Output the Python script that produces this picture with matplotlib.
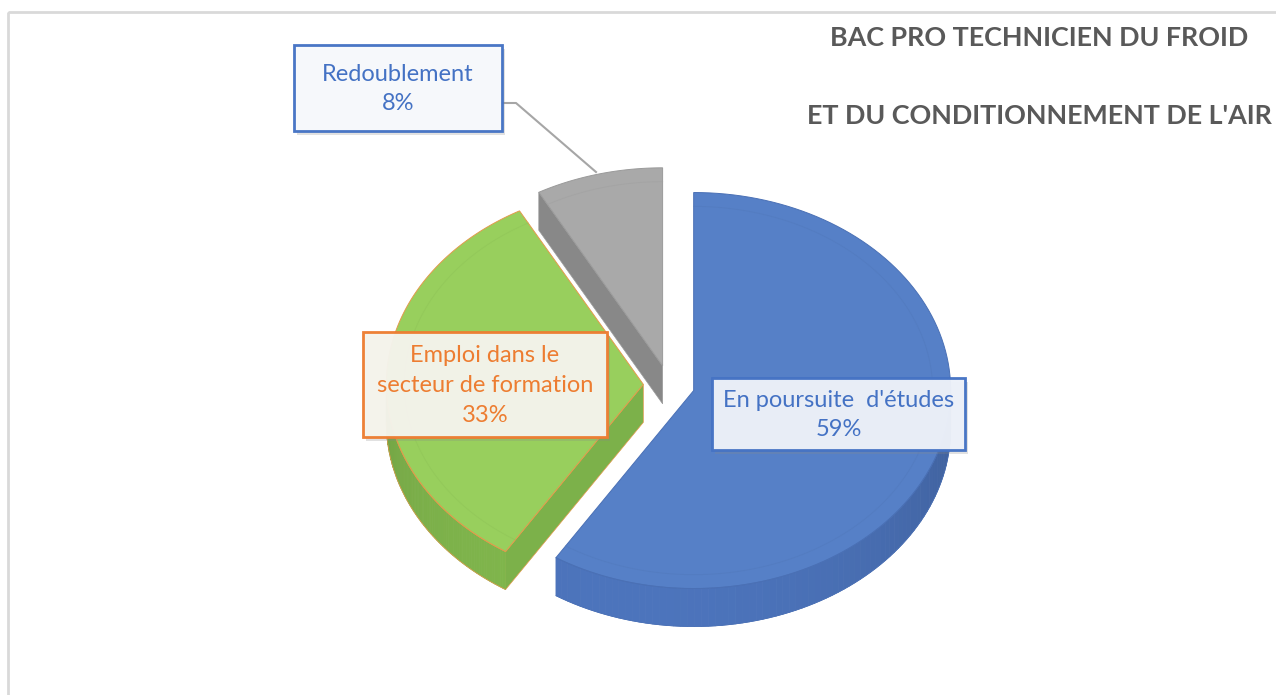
import numpy as np
import matplotlib.pyplot as plt
import matplotlib.patheffects as pe
from matplotlib.patches import Polygon, Rectangle

# Data
categories = ["En poursuite  d'études", "Emploi dans le\nsecteur de formation", "Redoublement"]
values = [59, 33, 8]
top_colors = ["#5680C7", "#98CF5D", "#A9A9A9"]
side_colors = ["#4C74BC", "#80B64C", "#8C8C8C"]
edge_colors = ["#4A70B5", "#E39A4C", "#9A9A9A"]
label_colors = ["#4472C4", "#ED7D31", "#4472C4"]
title = "BAC PRO TECHNICIEN DU FROID\n\nET DU CONDITIONNEMENT DE L'AIR"

# Layout (pixel space)
W, H = 1276, 695
CX, CY = 669, 385      # pie centre
RX, RY = 257, 198      # ellipse radii of top face
DEPTH = 38             # slab thickness
EXPLODE = 0.1
label_boxes = [(712, 378, 253, 72), (363, 332, 244, 105), (294, 45, 208, 86)]

plt.rcParams['font.family'] = ['Lato', 'DejaVu Sans']

fig = plt.figure(figsize=(W / 100, H / 100), dpi=100)
ax = fig.add_axes([0, 0, 1, 1])
ax.set_xlim(0, W)
ax.set_ylim(H, 0)
ax.axis('off')

# chart frame (clipped on right and bottom)
ax.add_patch(Rectangle((8, 12), 1400, 800, fill=False, ec="#D9D9D9", lw=2))


def pt(ox, oy, t, dy=0):
    r = np.radians(t)
    return ox + RX * np.sin(r), oy - RY * np.cos(r) + dy


def shade(color, f):
    c = np.array(plt.matplotlib.colors.to_rgb(color))
    return tuple(np.clip(c * f, 0, 1))


total = sum(values)
bounds = np.concatenate([[0], np.cumsum(values)]) / total * 360

# draw back to front: gray, green, blue
for i in [2, 1, 0]:
    a0, a1 = bounds[i], bounds[i + 1]
    mid = np.radians((a0 + a1) / 2)
    ox = CX + EXPLODE * RX * np.sin(mid)
    oy = CY - EXPLODE * RY * np.cos(mid)

    # radial side faces
    for a, n in [(a0, a0 - 90), (a1, a1 + 90)]:
        if np.cos(np.radians(n)) < -0.05:
            q = pt(ox, oy, a)
            quad = [(ox, oy), q, (q[0], q[1] + DEPTH), (ox, oy + DEPTH)]
            ax.add_patch(Polygon(quad, closed=True, fc=shade(side_colors[i], 0.97),
                                 ec=edge_colors[i], lw=0.5))

    # outer wall (front half only)
    lo, hi = max(a0, 90), min(a1, 270)
    if hi > lo:
        ts = np.linspace(lo, hi, 80)
        for t0, t1 in zip(ts[:-1], ts[1:]):
            p0, p1 = pt(ox, oy, t0), pt(ox, oy, t1)
            f = 0.86 + 0.14 * np.cos(np.radians((t0 + t1) / 2 - 195))
            quad = [p0, p1, (p1[0], p1[1] + DEPTH), (p0[0], p0[1] + DEPTH)]
            ax.add_patch(Polygon(quad, closed=True, fc=shade(side_colors[i], f),
                                 ec=shade(side_colors[i], f), lw=0.6))
        top_arc = [pt(ox, oy, t) for t in ts]
        bot_arc = [pt(ox, oy, t, DEPTH) for t in ts]
        ax.plot(*zip(*bot_arc), color=edge_colors[i], lw=0.5)
        ax.plot(*zip(*top_arc), color=edge_colors[i], lw=0.5)

    # top face
    ts = np.linspace(a0, a1, 120)
    poly = [(ox, oy)] + [pt(ox, oy, t) for t in ts]
    ax.add_patch(Polygon(poly, closed=True, fc=top_colors[i], ec=edge_colors[i], lw=0.7))
    # faint bevel line
    inner = [(ox + (x - ox) * 0.93, oy + (y - oy) * 0.93) for x, y in poly[1:]]
    ax.plot(*zip(*inner), color=shade(top_colors[i], 0.95), lw=0.7, alpha=0.6)

# leader line for the small slice
ax.plot([502, 516, 596], [103, 103, 172], color="#A6A6A6", lw=1.5)

# data labels
fills = ["#EDF1F9", "#F5F4EC", "#F7F9FC"]
for i, (x, y, w, h) in enumerate(label_boxes):
    box = Rectangle((x, y), w, h, fc=fills[i], ec=label_colors[i], lw=2, alpha=0.97, zorder=5)
    box.set_path_effects([pe.SimplePatchShadow(offset=(2, -3), shadow_rgbFace="#888888", alpha=0.25),
                          pe.Normal()])
    ax.add_patch(box)
    pct = round(values[i] / total * 100)
    ax.text(x + w / 2, y + h / 2 + 1, f"{categories[i]}\n{pct}%", ha="center", va="center",
            fontsize=17, color=label_colors[i], linespacing=1.5, zorder=6)

ax.text(1039, 77, title, ha="center", va="center", fontsize=19.4, fontweight="bold",
        color="#595959", linespacing=1.75)

plt.savefig("out.png", dpi=100)
